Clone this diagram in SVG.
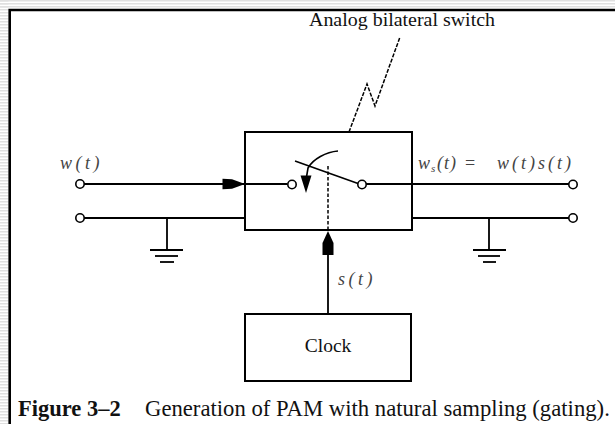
<svg xmlns="http://www.w3.org/2000/svg" width="615" height="424" viewBox="0 0 615 424">
<style>
.w{fill:none;stroke:#000;stroke-width:1.8}
.box{fill:#fff;stroke:#000;stroke-width:2}
.term{fill:#fff;stroke:#000;stroke-width:1.6}
.ah{fill:#000;stroke:none}
.lbl{font-family:"Liberation Serif","Times New Roman",serif;font-style:italic;font-size:18px;fill:#444;letter-spacing:3.5px}
.txt{font-family:"Liberation Serif","Times New Roman",serif;fill:#111}
</style>
<defs>
<pattern id="stripes" width="4" height="3" patternUnits="userSpaceOnUse">
<rect width="4" height="1.5" fill="#e0e0e0"/>
</pattern>
</defs>
<rect width="615" height="424" fill="#fff"/>
<rect x="0" y="0" width="615" height="8.5" fill="url(#stripes)"/>
<rect x="0" y="0" width="8.5" height="424" fill="url(#stripes)"/>
<path d="M9.7,424 V10 H615" fill="none" stroke="#000" stroke-width="2.6"/>

<g id="connectors">
<line class="w" x1="84" y1="184" x2="287.5" y2="184"/>
<polygon class="ah" points="222.5,178.8 232,179.3 245,184 232,188.7 222.5,189.2"/>
<line class="w" x1="84" y1="218" x2="245" y2="218"/>
<line class="w" x1="366" y1="184" x2="569" y2="184"/>
<line class="w" x1="412" y1="218" x2="569" y2="218"/>
<g id="ground-left">
<line class="w" x1="167" y1="218" x2="167" y2="250"/>
<line class="w" x1="150" y1="250" x2="183" y2="250"/>
<line class="w" x1="155" y1="256" x2="178" y2="256"/>
<line class="w" x1="160" y1="262" x2="174" y2="262"/>
</g>
<g id="ground-right">
<line class="w" x1="489" y1="218" x2="489" y2="250"/>
<line class="w" x1="473" y1="250" x2="506" y2="250"/>
<line class="w" x1="478" y1="256" x2="500" y2="256"/>
<line class="w" x1="483" y1="262" x2="496" y2="262"/>
</g>
<line class="w" x1="328" y1="314" x2="328" y2="250"/>
<polygon class="ah" points="328,231 333.5,243 333.5,255 322.5,255 322.5,243"/>
<path d="M349,132 L367,84 L375,106 L400,37" fill="none" stroke="#000" stroke-width="1.5" stroke-dasharray="4,1.5"/>
</g>

<g id="switch-box">
<rect class="box" x="245" y="132" width="167" height="98"/>
<line class="w" x1="245" y1="184" x2="287.5" y2="184"/>
<line class="w" x1="366" y1="184" x2="412" y2="184"/>
<line x1="295" y1="161" x2="358" y2="183.5" stroke="#000" stroke-width="1.6"/>
<path d="M338,151 C326,152 313,159 308,168 L306.5,177" fill="none" stroke="#000" stroke-width="1.6"/>
<polygon class="ah" points="300.5,175.5 311.5,175.5 306,193"/>
<line x1="328" y1="166" x2="328" y2="230" stroke="#000" stroke-width="1.5" stroke-dasharray="3.5,2"/>
<circle class="term" cx="292" cy="184.5" r="4.2"/>
<circle class="term" cx="362" cy="184.5" r="4.2"/>
</g>

<g id="terminals">
<circle class="term" cx="80" cy="184" r="4.2"/>
<circle class="term" cx="80" cy="218" r="4.2"/>
<circle class="term" cx="573" cy="184.5" r="4.2"/>
<circle class="term" cx="573" cy="218" r="4.2"/>
</g>

<g id="clock">
<rect class="box" x="245" y="314" width="166" height="67"/>
<text class="txt" x="328" y="352" font-size="19.5" text-anchor="middle">Clock</text>
</g>

<g id="labels">
<text class="txt" x="309" y="26" font-size="19" textLength="186" lengthAdjust="spacingAndGlyphs">Analog bilateral switch</text>
<text class="lbl" x="60" y="169">w(t)</text>
<text class="lbl" x="338" y="285">s(t)</text>
<text class="lbl" y="169"><tspan x="418" letter-spacing="0">w</tspan><tspan x="431" dy="3" font-size="11" letter-spacing="0">s</tspan><tspan x="437" dy="-3" letter-spacing="1">(t)</tspan><tspan x="465" font-style="normal" letter-spacing="0">=</tspan><tspan x="497" letter-spacing="3">w(t)s(t)</tspan></text>
<text class="txt" x="18" y="416" font-size="22.5" font-weight="bold">Figure 3–2</text>
<text class="txt" x="145" y="416" font-size="22.7">Generation of PAM with natural sampling (gating).</text>
</g>
</svg>
